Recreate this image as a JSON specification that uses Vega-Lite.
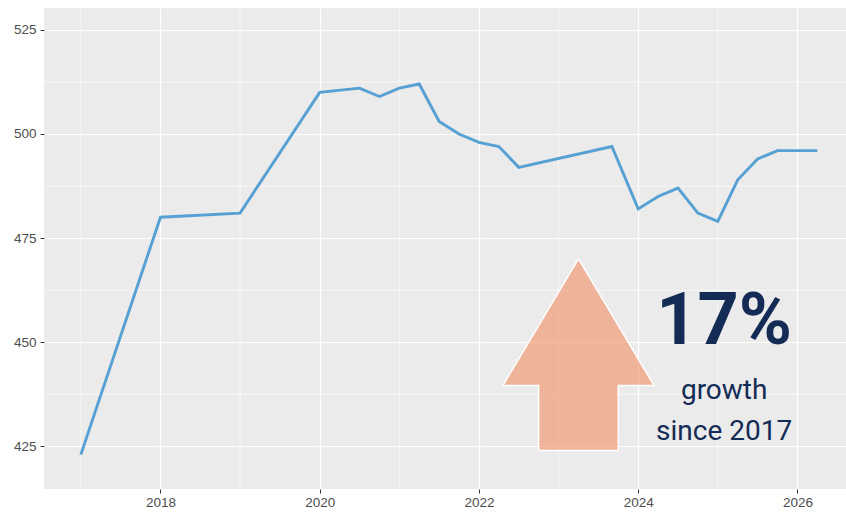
{
  "$schema": "https://vega.github.io/schema/vega-lite/v6.json",
  "width": 802,
  "height": 481,
  "autosize": {"type": "none"},
  "padding": {"left": 44, "top": 8, "right": 0, "bottom": 25},
  "background": "white",
  "config": {
    "view": {"fill": "#EBEBEB", "stroke": null},
    "axis": {
      "domain": false,
      "title": null,
      "labelColor": "#4D4D4D",
      "labelFont": "Liberation Sans",
      "labelFontSize": 13.5,
      "tickColor": "#333333",
      "tickSize": 4,
      "tickWidth": 1,
      "gridColor": "#FFFFFF",
      "gridWidth": 1.2
    }
  },
  "datasets": {
    "series": [
      {"year": 2017, "value": 423},
      {"year": 2018, "value": 480},
      {"year": 2019, "value": 481},
      {"year": 2020, "value": 510},
      {"year": 2020.5, "value": 511},
      {"year": 2020.75, "value": 509},
      {"year": 2021, "value": 511},
      {"year": 2021.25, "value": 512},
      {"year": 2021.5, "value": 503},
      {"year": 2021.75, "value": 500},
      {"year": 2022, "value": 498},
      {"year": 2022.25, "value": 497},
      {"year": 2022.5, "value": 492},
      {"year": 2023.67, "value": 497},
      {"year": 2024, "value": 482},
      {"year": 2024.25, "value": 485},
      {"year": 2024.5, "value": 487},
      {"year": 2024.75, "value": 481},
      {"year": 2025, "value": 479},
      {"year": 2025.25, "value": 489},
      {"year": 2025.5, "value": 494},
      {"year": 2025.75, "value": 496},
      {"year": 2026.25, "value": 496}
    ],
    "vgrid": [{"x": 2017}, {"x": 2019}, {"x": 2021}, {"x": 2023}, {"x": 2025}],
    "hgrid": [{"y": 437.5}, {"y": 462.5}, {"y": 487.5}, {"y": 512.5}],
    "arrow": [
      {"x": 2022.3, "top": 439.6, "bottom": 439.6},
      {"x": 2022.75, "top": 454, "bottom": 439.6},
      {"x": 2022.7501, "top": 454, "bottom": 424},
      {"x": 2023.25, "top": 470, "bottom": 424},
      {"x": 2023.7499, "top": 454, "bottom": 424},
      {"x": 2023.75, "top": 454, "bottom": 439.6},
      {"x": 2024.2, "top": 439.6, "bottom": 439.6}
    ],
    "big": [{"x": 2025.08, "y": 449.5, "label": "17%"}],
    "small": [
      {"x": 2025.08, "y": 436.4, "label": "growth"},
      {"x": 2025.08, "y": 426.6, "label": "since 2017"}
    ]
  },
  "encoding": {
    "x": {"type": "quantitative", "scale": {"domain": [2016.5375, 2026.61], "nice": false, "zero": false},
          "axis": {"values": [2018, 2020, 2022, 2024, 2026], "format": "d", "grid": true, "labelPadding": 2}},
    "y": {"type": "quantitative", "scale": {"domain": [414.75, 530.25], "nice": false, "zero": false},
          "axis": {"values": [425, 450, 475, 500, 525], "grid": true, "labelPadding": 4}}
  },
  "layer": [
    {
      "data": {"name": "vgrid"},
      "mark": {"type": "rule", "color": "#FFFFFF", "strokeWidth": 0.6},
      "encoding": {"x": {"field": "x", "type": "quantitative"}}
    },
    {
      "data": {"name": "hgrid"},
      "mark": {"type": "rule", "color": "#FFFFFF", "strokeWidth": 0.6},
      "encoding": {"y": {"field": "y", "type": "quantitative"}}
    },
    {
      "data": {"name": "arrow"},
      "mark": {"type": "area", "orient": "vertical", "fill": "#F28E63", "fillOpacity": 0.6, "stroke": "#FFFFFF", "strokeWidth": 1.5, "strokeOpacity": 1},
      "encoding": {
        "x": {"field": "x", "type": "quantitative"},
        "y": {"field": "top", "type": "quantitative"},
        "y2": {"field": "bottom"}
      }
    },
    {
      "data": {"name": "series"},
      "mark": {"type": "line", "color": "#56A0D3", "strokeWidth": 2.9},
      "encoding": {
        "x": {"field": "year", "type": "quantitative"},
        "y": {"field": "value", "type": "quantitative"}
      }
    },
    {
      "data": {"name": "big"},
      "mark": {"type": "text", "font": "Roboto", "fontWeight": "bold", "fontSize": 72, "color": "#142C55", "align": "center", "baseline": "alphabetic"},
      "encoding": {
        "x": {"field": "x", "type": "quantitative"},
        "y": {"field": "y", "type": "quantitative"},
        "text": {"field": "label"}
      }
    },
    {
      "data": {"name": "small"},
      "mark": {"type": "text", "font": "Roboto", "fontSize": 28, "color": "#142C55", "align": "center", "baseline": "alphabetic"},
      "encoding": {
        "x": {"field": "x", "type": "quantitative"},
        "y": {"field": "y", "type": "quantitative"},
        "text": {"field": "label"}
      }
    }
  ]
}
